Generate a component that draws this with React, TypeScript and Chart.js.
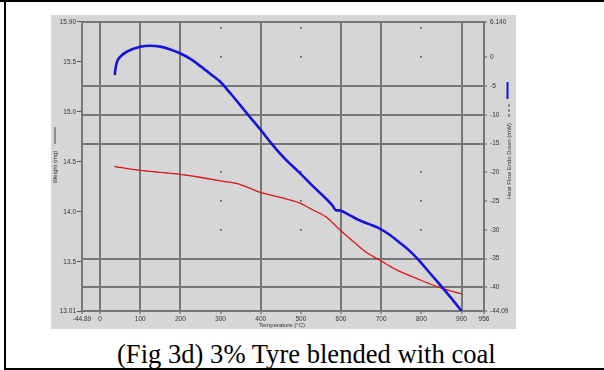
import React, { useEffect, useRef } from 'react';
import { Chart, registerables } from 'chart.js';

Chart.register(...registerables);

// Heat flow (right axis, mW) vs temperature (°C)
const heatTemp = [36.6, 39, 42.6, 50.7, 67.3, 100, 125, 150, 175, 199, 225, 249, 275, 300, 325, 350, 365, 402, 427, 460, 496, 530, 578, 588, 595, 620, 645, 670, 694, 720, 744, 770, 793, 820, 850, 875, 900];
const heatFlow = [-3.1, -1.8, -0.74, 0.12, 0.98, 1.84, 2.0, 1.84, 1.35, 0.69, -0.3, -1.5, -2.9, -4.3, -6.3, -8.4, -9.7, -12.8, -15.0, -17.6, -20.0, -22.4, -25.7, -26.6, -26.6, -27.4, -28.3, -29.0, -29.7, -30.8, -32.1, -33.6, -35.2, -37.4, -39.8, -41.9, -44.09];

// Weight (left axis, mg) vs temperature (°C)
const weightTemp = [36, 50, 100, 150, 199, 249, 300, 348, 397, 450, 496, 530, 563, 595, 632, 662, 694, 736, 793, 850, 900];
const weight = [14.455, 14.445, 14.416, 14.396, 14.376, 14.347, 14.31, 14.277, 14.198, 14.145, 14.09, 14.02, 13.95, 13.83, 13.70, 13.60, 13.525, 13.426, 13.327, 13.238, 13.18];

// Axis ticks and labels
const xTicks = [-44.89, 0, 100, 200, 300, 400, 500, 600, 700, 800, 900, 956];
const xTickLabels = ['-44.89', '0', '100', '200', '300', '400', '500', '600', '700', '800', '900', '956'];
const weightTicks = [13.01, 13.5, 14.0, 14.5, 15.0, 15.5, 15.9];
const weightTickLabels = ['13.01', '13.5', '14.0', '14.5', '15.0', '15.5', '15.90'];
const heatTicks = [-44.09, -40, -35, -30, -25, -20, -15, -10, -5, 0, 6.14];
const heatTickLabels = ['-44.09', '-40', '-35', '-30', '-25', '-20', '-15', '-10', '-5', '0', '6.140'];

// Which grid lines are drawn solid; the others only show dots at intersections
const xSolid = [0, 100, 200, 400, 600, 700, 900];
const heatSolid = [-40, -35, -15, -10, -5, 6.14];
const xDotted = [300, 500, 800];
const heatDotted = [5, 0, -20, -25, -30];

const FONT = "'Liberation Sans', Arial, sans-serif";
const GRID = '#767676';
const TICK = '#555555';

export default function App() {
  const ref = useRef<HTMLCanvasElement>(null);

  useEffect(() => {
    if (!ref.current) return;

    const dotsPlugin = {
      id: 'dots',
      beforeDatasetsDraw(chart: any) {
        const { ctx, scales } = chart;
        ctx.save();
        ctx.fillStyle = '#555';
        for (const t of xDotted) {
          for (const v of heatDotted) {
            const px = scales.x.getPixelForValue(t);
            const py = scales.y1.getPixelForValue(v);
            ctx.fillRect(Math.round(px) - 1, Math.round(py) - 1, 1.6, 1.6);
          }
        }
        ctx.restore();
      },
    };

    const titlesPlugin = {
      id: 'titles',
      afterDraw(chart: any) {
        const { ctx, chartArea } = chart;
        ctx.save();
        ctx.fillStyle = '#333';
        ctx.font = `6px ${FONT}`;
        // x title
        ctx.textAlign = 'center';
        ctx.textBaseline = 'middle';
        ctx.fillText('Temperature (°C)', (chartArea.left + chartArea.right) / 2 - 1, 310);
        // left title
        ctx.save();
        ctx.translate(4, 152);
        ctx.rotate(-Math.PI / 2);
        ctx.fillText('Weight (mg)', 0, 0);
        ctx.restore();
        ctx.strokeStyle = '#444';
        ctx.lineWidth = 1;
        ctx.beginPath();
        ctx.moveTo(4, 112);
        ctx.lineTo(4, 129);
        ctx.stroke();
        // right title
        ctx.save();
        ctx.translate(458.5, 146);
        ctx.rotate(-Math.PI / 2);
        ctx.fillText('Heat Flow Endo Down (mW)', 0, 0);
        ctx.restore();
        ctx.setLineDash([3, 2]);
        ctx.beginPath();
        ctx.moveTo(458, 89);
        ctx.lineTo(458, 102);
        ctx.stroke();
        ctx.setLineDash([]);
        ctx.strokeStyle = '#1515d8';
        ctx.lineWidth = 2;
        ctx.beginPath();
        ctx.moveTo(456.5, 67);
        ctx.lineTo(456.5, 84);
        ctx.stroke();
        ctx.restore();
      },
    };

    const chart = new Chart(ref.current, {
      type: 'line',
      data: {
        datasets: [
          {
            label: 'Heat Flow',
            data: heatTemp.map((t, i) => ({ x: t, y: heatFlow[i] })),
            yAxisID: 'y1',
            borderColor: '#1515d8',
            borderWidth: 2.6,
            pointRadius: 0,
            cubicInterpolationMode: 'monotone',
          },
          {
            label: 'Weight',
            data: weightTemp.map((t, i) => ({ x: t, y: weight[i] })),
            yAxisID: 'y',
            borderColor: '#e01818',
            borderWidth: 1.3,
            pointRadius: 0,
            cubicInterpolationMode: 'monotone',
          },
          {
            label: 'Weight dashes',
            data: weightTemp.map((t, i) => ({ x: t, y: weight[i] })),
            yAxisID: 'y',
            borderColor: 'rgba(80,80,80,0.6)',
            borderWidth: 1,
            borderDash: [4, 6],
            pointRadius: 0,
            cubicInterpolationMode: 'monotone',
          },
        ],
      },
      options: {
        animation: false,
        responsive: false,
        devicePixelRatio: 1,
        layout: { padding: { top: 4, left: 0, right: 0, bottom: 0 } },
        plugins: { legend: { display: false }, tooltip: { enabled: false } },
        scales: {
          x: {
            type: 'linear',
            min: -44.89,
            max: 956,
            afterBuildTicks: (s: any) => { s.ticks = xTicks.map((v) => ({ value: v })); },
            afterFit: (s: any) => { s.height = 18; },
            ticks: {
              callback: (_v: any, i: number) => xTickLabels[i],
              font: { size: 6.5, family: FONT },
              color: '#333',
              padding: 1,
              maxRotation: 0,
              autoSkip: false,
            },
            grid: {
              color: (c: any) => (xSolid.includes(c.tick?.value) ? GRID : 'rgba(0,0,0,0)'),
              lineWidth: 2,
              tickColor: TICK,
              tickLength: 3,
              tickWidth: 1,
            },
            border: { color: GRID, width: 2 },
          },
          y: {
            type: 'linear',
            position: 'left',
            min: 13.01,
            max: 15.9,
            afterBuildTicks: (s: any) => { s.ticks = weightTicks.map((v) => ({ value: v })); },
            afterFit: (s: any) => { s.width = 31; },
            ticks: {
              callback: (_v: any, i: number) => weightTickLabels[i],
              font: { size: 6.5, family: FONT },
              color: '#333',
              padding: 1,
              autoSkip: false,
            },
            grid: { drawOnChartArea: false, tickColor: TICK, tickLength: 5, tickWidth: 1 },
            border: { color: GRID, width: 2 },
          },
          y1: {
            type: 'linear',
            position: 'right',
            min: -44.09,
            max: 6.14,
            afterBuildTicks: (s: any) => { s.ticks = heatTicks.map((v) => ({ value: v })); },
            afterFit: (s: any) => { s.width = 32; },
            ticks: {
              callback: (_v: any, i: number) => heatTickLabels[i],
              font: { size: 6.5, family: FONT },
              color: '#333',
              padding: 3,
              autoSkip: false,
            },
            grid: {
              color: (c: any) => (heatSolid.includes(c.tick?.value) ? GRID : 'rgba(0,0,0,0)'),
              lineWidth: 2,
              tickColor: TICK,
              tickLength: 3,
              tickWidth: 1,
            },
            border: { color: GRID, width: 2 },
          },
        },
      },
      plugins: [dotsPlugin, titlesPlugin],
    } as any);

    return () => chart.destroy();
  }, []);

  return (
    <div style={{ position: 'absolute', left: 0, top: 0, width: 604, height: 370, background: '#fff', overflow: 'hidden' }}>
      <div style={{ position: 'absolute', left: 0, top: 0, width: 604, height: 2, background: '#000' }} />
      <div style={{ position: 'absolute', left: 4, top: 0, width: 2, height: 370, background: '#000' }} />
      <div style={{ position: 'absolute', left: 4, top: 368, width: 600, height: 2, background: '#000' }} />
      <div style={{ position: 'absolute', left: 51, top: 15, width: 465, height: 314, background: '#d6d6d6' }}>
        <canvas ref={ref} width={465} height={314} style={{ display: 'block', width: 465, height: 314 }} />
      </div>
      <div
        style={{
          position: 'absolute',
          left: 117,
          top: 341,
          fontFamily: "'Liberation Serif', 'Times New Roman', serif",
          fontSize: 26.6,
          lineHeight: '26px',
          whiteSpace: 'nowrap',
          color: '#000',
        }}
      >
        (Fig 3d) 3% Tyre blended with coal
      </div>
    </div>
  );
}
